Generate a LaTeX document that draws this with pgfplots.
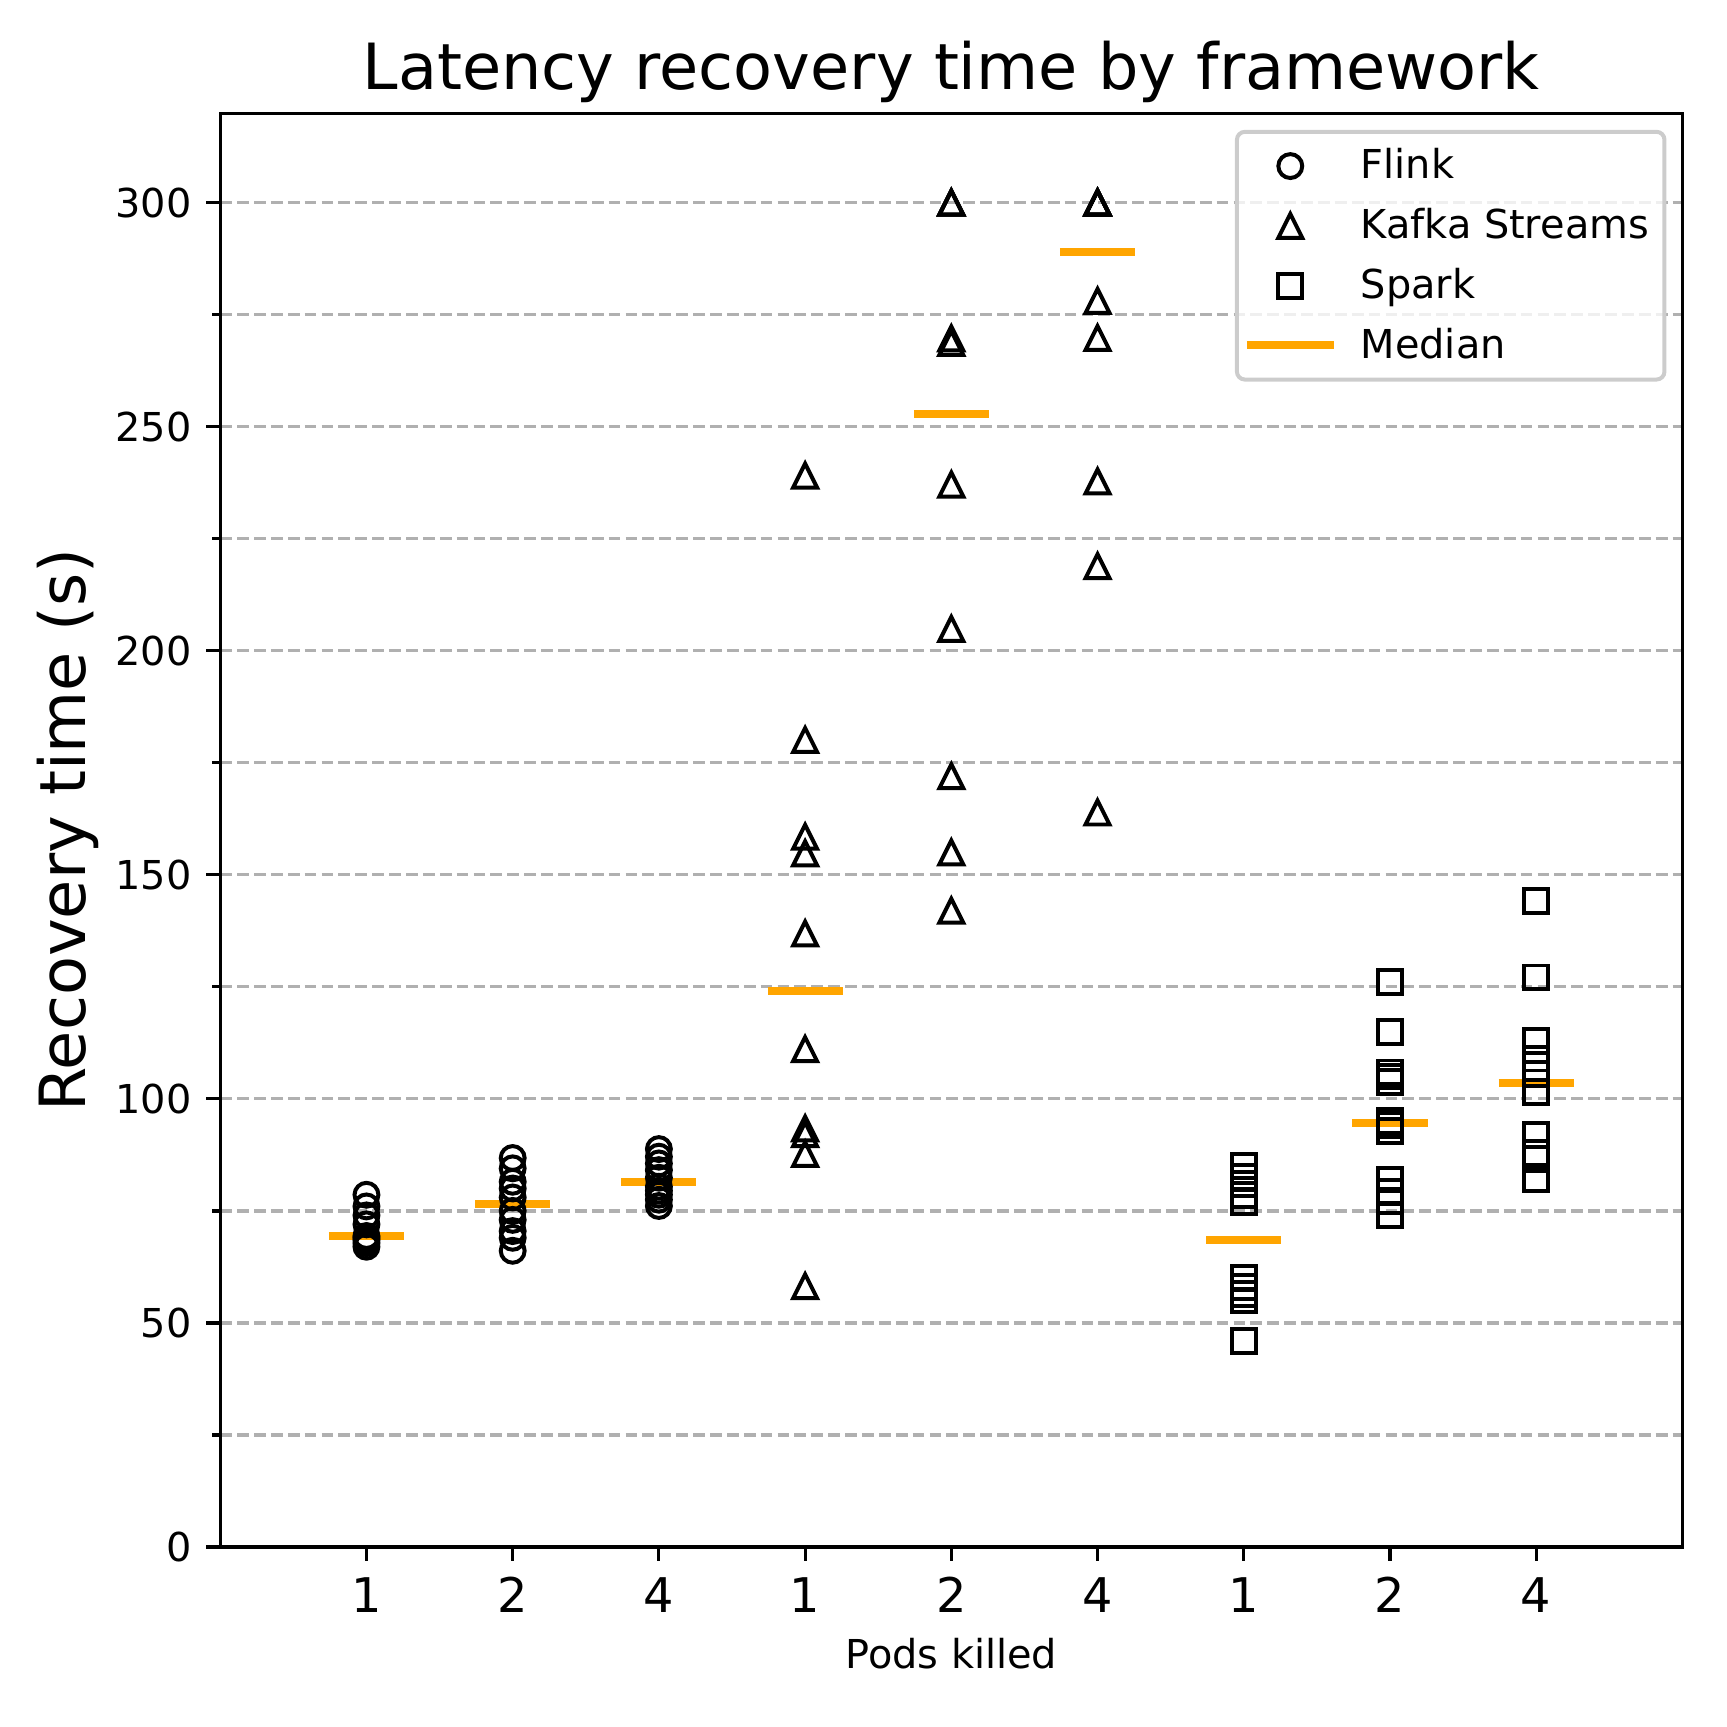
\documentclass[border=0pt]{standalone}
\usepackage{pgfplots}
\usepackage{pgfplotstable}
\pgfplotsset{compat=1.18}
\usepackage{fontspec}
\setmainfont{DejaVu Sans}
\definecolor{medorange}{HTML}{FFA500}
\definecolor{gridgray}{HTML}{B0B0B0}
\definecolor{leggray}{HTML}{CCCCCC}
\pgfdeclareplotmark{mpltri}{%
  \pgfpathmoveto{\pgfqpoint{0pt}{\pgfplotmarksize}}%
  \pgfpathlineto{\pgfqpoint{-\pgfplotmarksize}{-\pgfplotmarksize}}%
  \pgfpathlineto{\pgfqpoint{\pgfplotmarksize}{-\pgfplotmarksize}}%
  \pgfpathclose
  \pgfusepathqstroke}
\pgfplotsset{
  marklegend/.style={legend image code/.code={\path[draw=none, fill=none] (0pt,-3pt) rectangle (21.8pt,3pt); \draw[##1] plot coordinates {(10.9pt,0pt)};}},
  linelegend/.style={legend image code/.code={\draw[##1, rounded corners=0pt] (0pt,0pt) -- (21.8pt,0pt);}},
}

\pgfplotstableread{
x y
1 67.0
1 67.8
1 68.5
1 69.0
1 69.4
1 72.0
1 74.0
1 76.0
1 78.6
2 66.1
2 69.0
2 70.5
2 73.0
2 75.0
2 78.0
2 80.0
2 81.5
2 84.5
2 86.8
3 76.1
3 77.5
3 78.6
3 79.5
3 80.4
3 82.4
3 84.1
3 85.6
3 87.1
3 88.8
}\flink

\pgfplotstableread{
x y
4 58.2
4 87.7
4 92.1
4 93.4
4 111.1
4 136.9
4 154.8
4 158.5
4 180.1
4 239.1
5 142.0
5 155.0
5 172.0
5 204.9
5 237.1
5 268.7
5 269.7
5 300
5 300
5 300
6 163.9
6 218.9
6 237.8
6 269.8
6 278.1
6 300
6 300
6 300
6 300
6 300
}\kafka

\pgfplotstableread{
x y
7 46.0
7 55.0
7 56.5
7 58.0
7 60.0
7 77.0
7 78.5
7 81.0
7 82.5
7 85.0
8 74.1
8 77.2
8 79.3
8 82.0
8 92.8
8 94.1
8 95.0
8 103.8
8 105.0
8 105.9
8 115.0
8 126.0
9 82.1
9 86.5
9 88.0
9 91.9
9 101.5
9 105.5
9 109.0
9 113.0
9 127.1
9 144.2
}\spark

\begin{document}
\begin{tikzpicture}
\begin{axis}[
  at={(0pt,0pt)}, anchor=south west,
  scale only axis,
  width=367.1pt, height=360.0pt,
  xmin=0, xmax=10, ymin=0, ymax=320,
  xtick={1,...,9},
  xticklabels={1,2,4,1,2,4,1,2,4},
  ytick={0,50,...,300},
  minor ytick={25,75,...,275},
  ymajorgrids, yminorgrids,
  grid style={gridgray, line width=0.8pt, dash pattern=on 2.96pt off 1.28pt},
  minor grid style={gridgray, line width=0.8pt, dash pattern=on 2.96pt off 1.28pt},
  tick pos=left,
  tick align=outside,
  major tick length=3.5pt,
  minor tick length=2pt,
  tick style={black, line width=0.8pt},
  axis line style={black, line width=0.8pt},
  /pgf/number format/assume math mode=true,
  xticklabel style={font=\fontsize{12}{14}\selectfont, anchor=north, inner sep=0pt, yshift=-3.9pt},
  yticklabel style={font=\fontsize{10}{12}\selectfont, anchor=east, inner sep=0pt, xshift=-3.5pt},
  title={Latency recovery time by framework},
  every axis title/.style={at={(axis description cs:0.5,1)}, anchor=base, yshift=5.8pt, font=\fontsize{16}{19}\selectfont, inner sep=0pt},
  xlabel={Pods killed},
  every axis x label/.style={at={(axis description cs:0.5,0)}, anchor=base, yshift=-30.5pt, font=\fontsize{10}{12}\selectfont, inner sep=0pt},
  ylabel={Recovery time (s)},
  every axis y label/.style={at={(axis description cs:-0.0923,0.5)}, rotate=90, anchor=base, font=\fontsize{16}{19}\selectfont, inner sep=0pt},
  legend style={at={(1,1)}, anchor=north east, xshift=-4.0pt, yshift=-4.2pt,
    draw=leggray, line width=1pt, rounded corners=2pt,
    fill=white, fill opacity=0.8, draw opacity=1, text opacity=1,
    inner xsep=1.5pt, inner ysep=3.6pt,
    font=\fontsize{10}{12}\selectfont,
    nodes={inner sep=0pt, text height=8.2pt, text depth=1.8pt},
    row sep=5pt,
    /tikz/every odd column/.append style={column sep=5.8pt}},
  legend cell align=left,
]
\addplot[only marks, mark=o, mark size=3pt, mark options={black, line width=1pt, solid}, marklegend]
  table[x=x, y=y] {\flink};
\addlegendentry{Flink}
\addplot[only marks, mark=mpltri, mark size=3pt, mark options={black, line width=1pt, solid}, marklegend]
  table[x=x, y=y] {\kafka};
\addlegendentry{Kafka Streams\kern2.4pt}
\addplot[only marks, mark=square, mark size=3pt, mark options={black, line width=1pt, solid}, marklegend]
  table[x=x, y=y] {\spark};
\addlegendentry{Spark}
\addplot[medorange, line width=2pt, line cap=butt, no markers, unbounded coords=jump, linelegend]
  coordinates {
    (0.743,69.4) (1.257,69.4) (1.5,nan)
    (1.743,76.5) (2.257,76.5) (2.5,nan)
    (2.743,81.4) (3.257,81.4) (3.5,nan)
    (3.743,124.0) (4.257,124.0) (4.5,nan)
    (4.743,252.9) (5.257,252.9) (5.5,nan)
    (5.743,289.05) (6.257,289.05) (6.5,nan)
    (6.743,68.5) (7.257,68.5) (7.5,nan)
    (7.743,94.55) (8.257,94.55) (8.5,nan)
    (8.743,103.5) (9.257,103.5)
  };
\addlegendentry{Median}
\end{axis}
\pgfresetboundingbox
\path[use as bounding box] (-55.3pt,-45.2pt) rectangle (378.3pt,388.4pt);
\end{tikzpicture}
\end{document}
